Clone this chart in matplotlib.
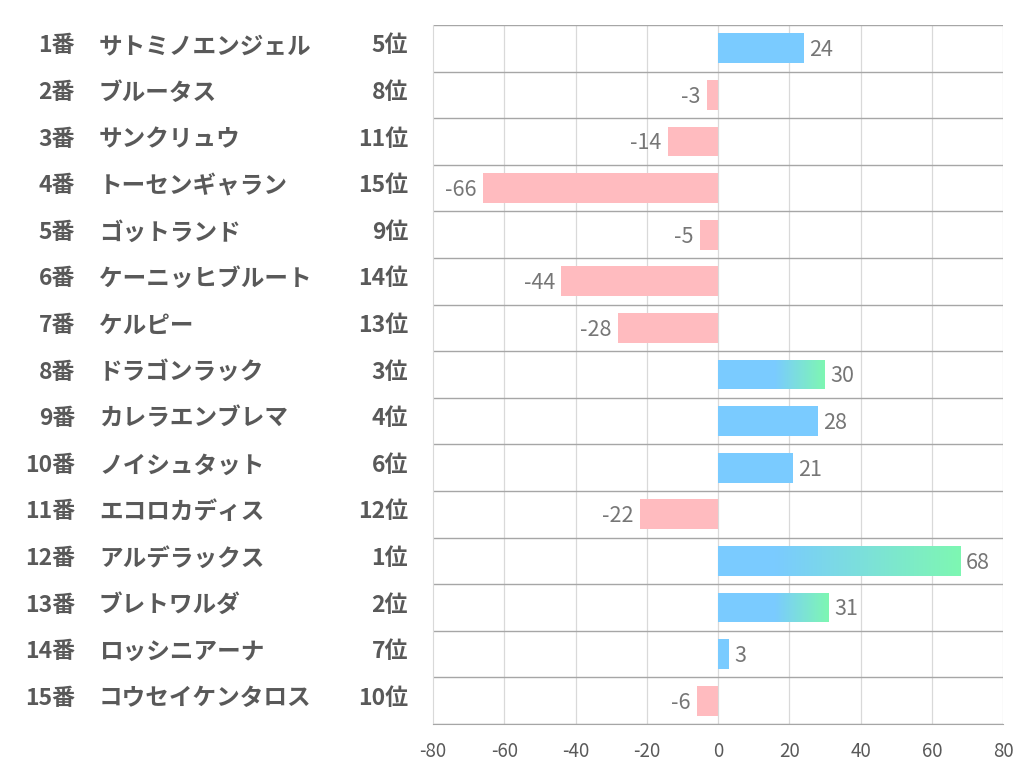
import matplotlib.pyplot as plt
import matplotlib.transforms as mtransforms
import numpy as np
from matplotlib.colors import LinearSegmentedColormap
from matplotlib.patches import Rectangle

plt.rcParams['font.family'] = ['Noto Sans CJK JP', 'DejaVu Sans']

numbers = ["1番", "2番", "3番", "4番", "5番", "6番", "7番", "8番", "9番", "10番",
           "11番", "12番", "13番", "14番", "15番"]
names = ["サトミノエンジェル", "ブルータス", "サンクリュウ", "トーセンギャラン", "ゴットランド",
         "ケーニッヒブルート", "ケルピー", "ドラゴンラック", "カレラエンブレマ", "ノイシュタット",
         "エコロカディス", "アルデラックス", "ブレトワルダ", "ロッシニアーナ", "コウセイケンタロス"]
ranks = ["5位", "8位", "11位", "15位", "9位", "14位", "13位", "3位", "4位", "6位",
         "12位", "1位", "2位", "7位", "10位"]
values = [24, -3, -14, -66, -5, -44, -28, 30, 28, 21, -22, 68, 31, 3, -6]
top3 = ["1位", "2位", "3位"]

blue = "#7ACBFF"
green = "#7EF7B2"
pink = "#FFBBBF"
text_col = "#595959"

W, H = 1022, 782
fig = plt.figure(figsize=(W / 100, H / 100), dpi=100)
ax = fig.add_axes([433 / W, 1 - 724 / H, 570 / W, 699 / H])

n = len(values)
ys = np.arange(n)
bar_h = 0.64
cmap = LinearSegmentedColormap.from_list("bg", [blue, green])

for y, v, r in zip(ys, values, ranks):
    if v >= 0:
        rect = Rectangle((0, y - bar_h / 2), v, bar_h, facecolor=blue, edgecolor="none", zorder=3)
        ax.add_patch(rect)
        if r in top3:
            # gradient section toward the bar end
            g0 = 16
            grad = np.linspace(0, 1, 256).reshape(1, -1)
            im = ax.imshow(grad, cmap=cmap, aspect="auto",
                           extent=(g0, v, y + bar_h / 2, y - bar_h / 2), zorder=3.5)
            im.set_clip_path(rect)
        ax.text(v + 1.6, y + 0.04, str(v), ha="left", va="center", fontsize=15.5,
                color="#767676", zorder=5)
    else:
        ax.add_patch(Rectangle((v, y - bar_h / 2), -v, bar_h, facecolor=pink,
                               edgecolor="none", zorder=3))
        ax.text(v - 1.8, y + 0.04, str(v), ha="right", va="center", fontsize=15.5,
                color="#767676", zorder=5)

ax.set_xlim(-80, 80)
ax.set_ylim(n - 0.5, -0.5)
ax.set_xticks(np.arange(-80, 81, 20))
ax.set_xticklabels([str(t) for t in range(-80, 81, 20)])
ax.tick_params(axis="x", length=0, labelsize=13.5, labelcolor=text_col, pad=12)
ax.set_yticks([])

for t in range(-60, 81, 20):
    ax.axvline(t, color="#D9D9D9", lw=0.9, zorder=1)
for b in np.arange(-0.5, n, 1.0):
    ax.axhline(b, color="#A6A6A6", lw=1.0, zorder=2)

for s in ["top", "right"]:
    ax.spines[s].set_visible(False)
ax.spines["left"].set_color("#D9D9D9")
ax.spines["bottom"].set_color("#A6A6A6")

# left-hand table of labels (x in figure pixels, y in data rows)
tr = mtransforms.blended_transform_factory(fig.transFigure, ax.transData)
for y, num, nm, rk in zip(ys, numbers, names, ranks):
    yy = y - 0.05
    ax.text(75 / W, yy, num, ha="right", va="center", fontsize=16.5,
            fontweight="bold", color=text_col, transform=tr, clip_on=False)
    ax.text(99 / W, yy, nm, ha="left", va="center", fontsize=17,
            fontweight="bold", color=text_col, transform=tr, clip_on=False)
    ax.text(408 / W, yy, rk, ha="right", va="center", fontsize=16.5,
            fontweight="bold", color=text_col, transform=tr, clip_on=False)

fig.savefig("out.png", dpi=100, facecolor="white")
